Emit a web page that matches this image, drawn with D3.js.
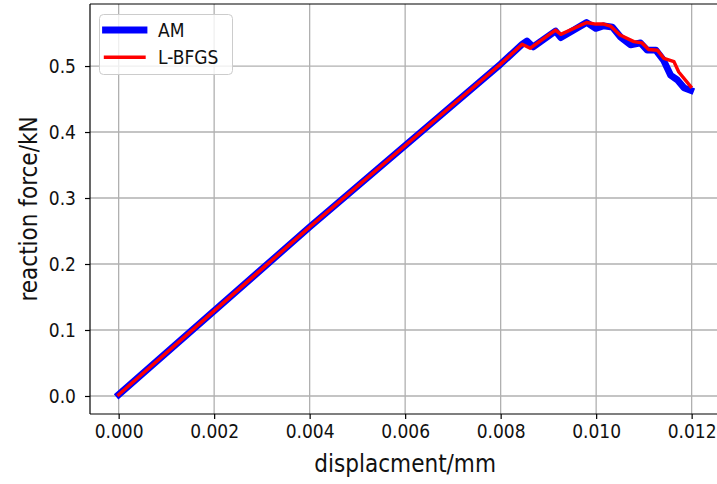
<!DOCTYPE html>
<html>
<head>
<meta charset="utf-8">
<script src="https://cdn.jsdelivr.net/npm/d3@7"></script>
<style>
  html, body { margin: 0; padding: 0; background: #fff; }
  svg { display: block; }
  text { font-family: "DejaVu Sans Condensed", "DejaVu Sans", sans-serif; fill: #111; }
</style>
</head>
<body>
<svg id="chart" width="717" height="484"></svg>
<script>
// ---- data ----
const amDisp = [0, 0.004, 0.008, 0.00845, 0.00855, 0.00868, 0.00915, 0.00926, 0.0098, 0.00999, 0.01016, 0.01034, 0.01051, 0.01072, 0.01093, 0.01107, 0.01125, 0.01141, 0.01156, 0.0117, 0.01184, 0.01198];
const amForce = [0.002, 0.256, 0.503, 0.533, 0.538, 0.529, 0.553, 0.543, 0.566, 0.557, 0.561, 0.559, 0.544, 0.532, 0.535, 0.524, 0.524, 0.509, 0.486, 0.479, 0.467, 0.463];

const lbfgsDisp = [0, 0.004, 0.008, 0.00845, 0.00862, 0.00915, 0.00926, 0.0098, 0.00999, 0.01016, 0.0103, 0.0105, 0.01079, 0.01096, 0.0111, 0.01128, 0.01142, 0.01163, 0.01173, 0.01198];
const lbfgsForce = [0.002, 0.256, 0.503, 0.533, 0.527, 0.5545, 0.548, 0.566, 0.5636, 0.5636, 0.5606, 0.547, 0.537, 0.535, 0.525, 0.524, 0.5116, 0.5066, 0.491, 0.469];

const xTicks = [0, 0.002, 0.004, 0.006, 0.008, 0.010, 0.012];
const yTicks = [0.0, 0.1, 0.2, 0.3, 0.4, 0.5];
const seriesNames = ["AM", "L-BFGS"];
const seriesColors = ["#0000ff", "#ff0000"];

// ---- layout ----
const svg = d3.select("#chart");
const L = 90, R = 720.3, T = 4, B = 414;

const x = d3.scaleLinear().domain([-0.0006, 0.0126]).range([L, R]);
const y = d3.scaleLinear().domain([-0.0273, 0.594]).range([B, T]);

svg.append("defs").append("clipPath").attr("id", "clip")
  .append("rect").attr("x", L).attr("y", T).attr("width", R - L).attr("height", B - T);

// grid
const grid = svg.append("g");
grid.selectAll(".gx").data(xTicks).enter().append("line")
  .attr("x1", d => x(d)).attr("x2", d => x(d)).attr("y1", T).attr("y2", B)
  .attr("stroke", "#b0b0b0").attr("stroke-width", 1.3);
grid.selectAll(".gy").data(yTicks).enter().append("line")
  .attr("x1", L).attr("x2", R).attr("y1", d => y(d)).attr("y2", d => y(d))
  .attr("stroke", "#b0b0b0").attr("stroke-width", 1.3);

// lines
const line = d3.line().x(d => x(d[0])).y(d => y(d[1]));
const plot = svg.append("g").attr("clip-path", "url(#clip)");
const amData = amDisp.map((d, i) => [d, amForce[i]]);
const lbData = lbfgsDisp.map((d, i) => [d, lbfgsForce[i]]);
plot.append("path").datum(amData).attr("d", line)
  .attr("fill", "none").attr("stroke", seriesColors[0]).attr("stroke-width", 6.8)
  .attr("stroke-linejoin", "round").attr("stroke-linecap", "square");
plot.append("path").datum(lbData).attr("d", line)
  .attr("fill", "none").attr("stroke", seriesColors[1]).attr("stroke-width", 3.4)
  .attr("stroke-linejoin", "round").attr("stroke-linecap", "square");

// axes
const xAxis = d3.axisBottom(x).tickValues(xTicks).tickFormat(d3.format(".3f"))
  .tickSizeInner(5).tickSizeOuter(0).tickPadding(6);
const gx = svg.append("g").attr("transform", `translate(0,${B})`).call(xAxis);
gx.select(".domain").remove();
gx.selectAll("line").attr("stroke", "#000").attr("stroke-width", 1.2);
gx.selectAll("text").attr("font-size", 19).attr("fill", "#111")
  .attr("font-family", "'DejaVu Sans Condensed', 'DejaVu Sans', sans-serif");

const yAxis = d3.axisLeft(y).tickValues(yTicks).tickFormat(d3.format(".1f"))
  .tickSizeInner(5).tickSizeOuter(0).tickPadding(9);
const gy = svg.append("g").attr("transform", `translate(${L},0)`).call(yAxis);
gy.select(".domain").remove();
gy.selectAll("line").attr("stroke", "#000").attr("stroke-width", 1.2);
gy.selectAll("text").attr("font-size", 19).attr("fill", "#111")
  .attr("font-family", "'DejaVu Sans Condensed', 'DejaVu Sans', sans-serif");

// spines
const sp = svg.append("g").attr("stroke", "#000").attr("stroke-width", 1.2).attr("fill", "none");
sp.append("line").attr("x1", L).attr("x2", L).attr("y1", T).attr("y2", B);
sp.append("line").attr("x1", L).attr("x2", R).attr("y1", B).attr("y2", B);
sp.append("line").attr("x1", L).attr("x2", R).attr("y1", T).attr("y2", T);
sp.append("line").attr("x1", R).attr("x2", R).attr("y1", T).attr("y2", B);

// axis labels
svg.append("text").attr("x", (L + R) / 2).attr("y", 472).attr("text-anchor", "middle")
  .attr("font-size", 24).text("displacment/mm");
svg.append("text").attr("transform", `translate(36.5,${(T + B) / 2}) rotate(-90)`)
  .attr("text-anchor", "middle").attr("font-size", 24).text("reaction force/kN");

// legend
const lg = svg.append("g");
lg.append("rect").attr("x", 99.5).attr("y", 14.5).attr("width", 133).attr("height", 60)
  .attr("rx", 4).attr("fill", "#fff").attr("fill-opacity", 0.8)
  .attr("stroke", "#cccccc").attr("stroke-width", 1);
const lgY = [30, 57.3];
const lgW = [6.8, 3.4];
seriesNames.forEach((name, i) => {
  lg.append("line").attr("x1", 105.5).attr("x2", 144).attr("y1", lgY[i]).attr("y2", lgY[i])
    .attr("stroke", seriesColors[i]).attr("stroke-width", lgW[i]).attr("stroke-linecap", "square");
  lg.append("text").attr("x", 158).attr("y", lgY[i] + 6.8).attr("font-size", 19).text(name);
});
</script>
</body>
</html>
